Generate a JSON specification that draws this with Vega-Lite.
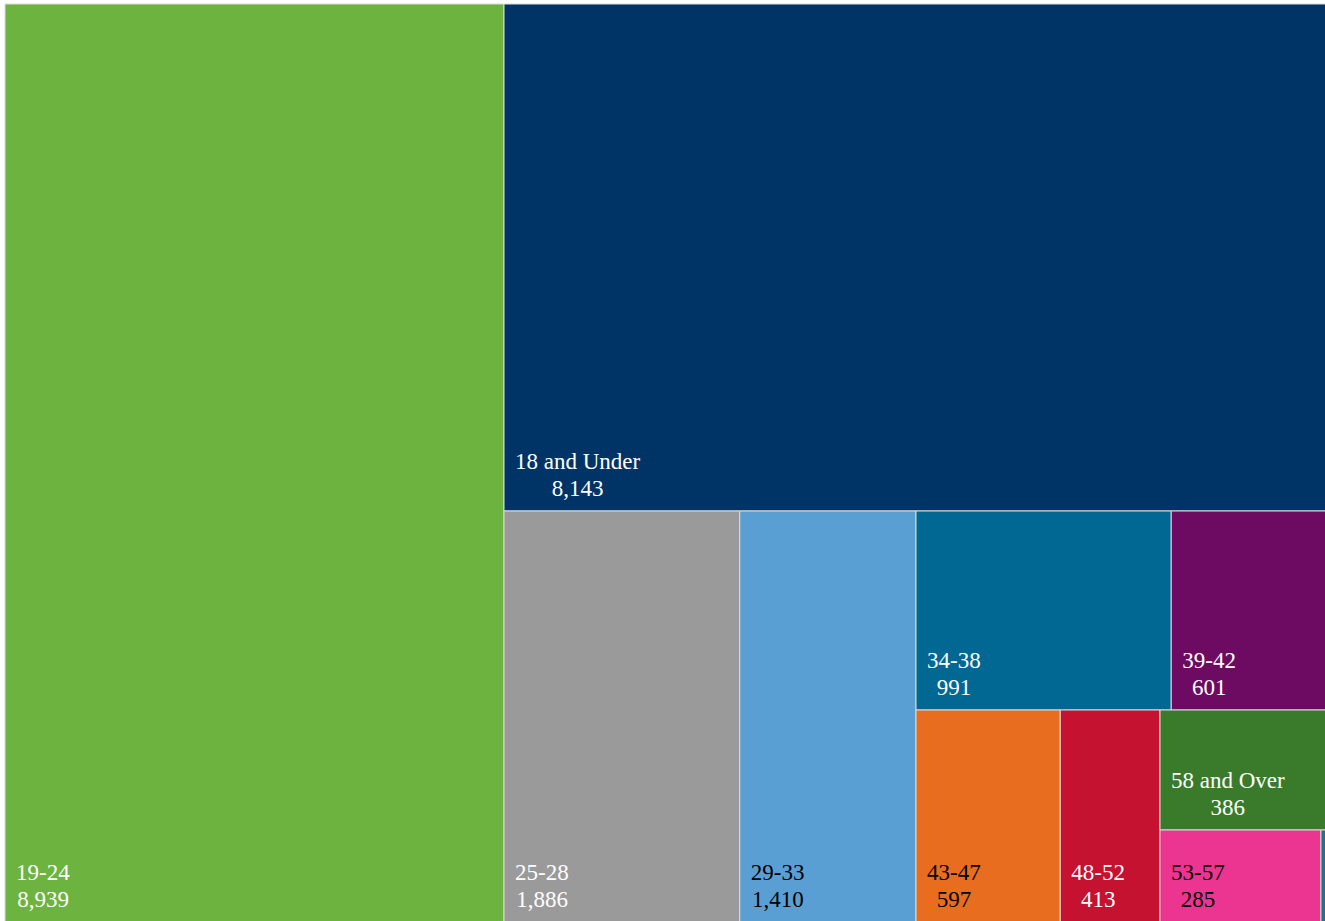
{
  "$schema": "https://vega.github.io/schema/vega-lite/v6.json",
  "padding": {"left": 4, "top": 3, "right": 0, "bottom": 0},
  "background": "white",
  "config": {"view": {"stroke": null}, "concat": {"spacing": 0}, "text": {"font": "Liberation Serif", "fontSize": 23}},
  "data": {"values": [
    {"label": "19-24", "value": 8939},
    {"label": "18 and Under", "value": 8143},
    {"label": "25-28", "value": 1886},
    {"label": "29-33", "value": 1410},
    {"label": "34-38", "value": 991},
    {"label": "39-42", "value": 601},
    {"label": "43-47", "value": 597},
    {"label": "48-52", "value": 413},
    {"label": "58 and Over", "value": 386},
    {"label": "53-57", "value": 285},
    {"label": "Unknown", "value": 9}
  ]},
  "spacing": 0,
  "bounds": "flush",
  "hconcat": [
    {
      "width": 499, "height": 918,
      "transform": [{"filter": {"field": "label", "oneOf": ["19-24"]}}, {"stack": "value", "groupby": [], "as": ["s0", "s1"], "offset": "normalize", "sort": [{"field": "value", "order": "descending"}]}],
      "layer": [
        {"mark": {"type": "rect", "stroke": "#dcdcdc", "strokeWidth": 1}, "encoding": {"x": {"field": "s0", "type": "quantitative", "scale": {"domain": [0, 1], "nice": false, "zero": false}, "axis": null}, "x2": {"field": "s1"}, "y": {"datum": 0, "type": "quantitative", "scale": {"domain": [0, 1], "nice": false}, "axis": null}, "y2": {"datum": 1}, "color": {"field": "label", "type": "nominal", "legend": null, "scale": {"domain": ["19-24", "18 and Under", "25-28", "29-33", "34-38", "39-42", "43-47", "48-52", "58 and Over", "53-57", "Unknown"], "range": ["#6db33f", "#003466", "#9a9a9a", "#5a9fd4", "#006892", "#6d0b62", "#e86d1f", "#c41230", "#3a7b2b", "#eb3591", "#2b6f86"]}}}},
        {"transform": [{"filter": "datum.value > 50"}], "mark": {"type": "text", "font": "Liberation Serif", "fontSize": 23, "align": "left", "baseline": "alphabetic", "dx": 11, "dy": -42.5}, "encoding": {"x": {"field": "s0", "type": "quantitative"}, "y": {"datum": 0, "type": "quantitative"}, "text": {"field": "label"}, "color": {"value": "white"}}},
        {"transform": [{"filter": "datum.value > 50"}], "mark": {"type": "text", "font": "Liberation Serif", "fontSize": 23, "align": "center", "baseline": "alphabetic", "dx": 38, "dy": -15.5}, "encoding": {"x": {"field": "s0", "type": "quantitative"}, "y": {"datum": 0, "type": "quantitative"}, "text": {"field": "value", "format": ","}, "color": {"value": "white"}}}
      ]
    },
    {
      "spacing": 0,
      "bounds": "flush",
      "vconcat": [
        {
          "width": 822, "height": 507,
          "transform": [{"filter": {"field": "label", "oneOf": ["18 and Under"]}}, {"stack": "value", "groupby": [], "as": ["s0", "s1"], "offset": "normalize", "sort": [{"field": "value", "order": "descending"}]}],
          "layer": [
            {"mark": {"type": "rect", "stroke": "#dcdcdc", "strokeWidth": 1}, "encoding": {"x": {"field": "s0", "type": "quantitative", "scale": {"domain": [0, 1], "nice": false, "zero": false}, "axis": null}, "x2": {"field": "s1"}, "y": {"datum": 0, "type": "quantitative", "scale": {"domain": [0, 1], "nice": false}, "axis": null}, "y2": {"datum": 1}, "color": {"field": "label", "type": "nominal", "legend": null}}},
            {"transform": [{"filter": "datum.value > 50"}], "mark": {"type": "text", "font": "Liberation Serif", "fontSize": 23, "align": "left", "baseline": "alphabetic", "dx": 11, "dy": -42.5}, "encoding": {"x": {"field": "s0", "type": "quantitative"}, "y": {"datum": 0, "type": "quantitative"}, "text": {"field": "label"}, "color": {"value": "white"}}},
            {"transform": [{"filter": "datum.value > 50"}], "mark": {"type": "text", "font": "Liberation Serif", "fontSize": 23, "align": "center", "baseline": "alphabetic", "dx": 73.6, "dy": -15.5}, "encoding": {"x": {"field": "s0", "type": "quantitative"}, "y": {"datum": 0, "type": "quantitative"}, "text": {"field": "value", "format": ","}, "color": {"value": "white"}}}
          ]
        },
        {
          "spacing": 0,
          "bounds": "flush",
          "hconcat": [
            {
              "width": 412, "height": 411,
              "transform": [{"filter": {"field": "label", "oneOf": ["25-28", "29-33"]}}, {"stack": "value", "groupby": [], "as": ["s0", "s1"], "offset": "normalize", "sort": [{"field": "value", "order": "descending"}]}],
              "layer": [
                {"mark": {"type": "rect", "stroke": "#dcdcdc", "strokeWidth": 1}, "encoding": {"x": {"field": "s0", "type": "quantitative", "scale": {"domain": [0, 1], "nice": false, "zero": false}, "axis": null}, "x2": {"field": "s1"}, "y": {"datum": 0, "type": "quantitative", "scale": {"domain": [0, 1], "nice": false}, "axis": null}, "y2": {"datum": 1}, "color": {"field": "label", "type": "nominal", "legend": null}}},
                {"transform": [{"filter": "datum.value > 50"}], "mark": {"type": "text", "font": "Liberation Serif", "fontSize": 23, "align": "left", "baseline": "alphabetic", "dx": 11, "dy": -42.5}, "encoding": {"x": {"field": "s0", "type": "quantitative"}, "y": {"datum": 0, "type": "quantitative"}, "text": {"field": "label"}, "color": {"condition": {"test": "datum.label == '29-33'", "value": "black"}, "value": "white"}}},
                {"transform": [{"filter": "datum.value > 50"}], "mark": {"type": "text", "font": "Liberation Serif", "fontSize": 23, "align": "center", "baseline": "alphabetic", "dx": 38, "dy": -15.5}, "encoding": {"x": {"field": "s0", "type": "quantitative"}, "y": {"datum": 0, "type": "quantitative"}, "text": {"field": "value", "format": ","}, "color": {"condition": {"test": "datum.label == '29-33'", "value": "black"}, "value": "white"}}}
              ]
            },
            {
              "spacing": 0,
              "bounds": "flush",
              "vconcat": [
                {
                  "width": 410, "height": 199,
                  "transform": [{"filter": {"field": "label", "oneOf": ["34-38", "39-42"]}}, {"stack": "value", "groupby": [], "as": ["s0", "s1"], "offset": "normalize", "sort": [{"field": "value", "order": "descending"}]}],
                  "layer": [
                    {"mark": {"type": "rect", "stroke": "#dcdcdc", "strokeWidth": 1}, "encoding": {"x": {"field": "s0", "type": "quantitative", "scale": {"domain": [0, 1], "nice": false, "zero": false}, "axis": null}, "x2": {"field": "s1"}, "y": {"datum": 0, "type": "quantitative", "scale": {"domain": [0, 1], "nice": false}, "axis": null}, "y2": {"datum": 1}, "color": {"field": "label", "type": "nominal", "legend": null}}},
                    {"transform": [{"filter": "datum.value > 50"}], "mark": {"type": "text", "font": "Liberation Serif", "fontSize": 23, "align": "left", "baseline": "alphabetic", "dx": 11, "dy": -42.5}, "encoding": {"x": {"field": "s0", "type": "quantitative"}, "y": {"datum": 0, "type": "quantitative"}, "text": {"field": "label"}, "color": {"value": "white"}}},
                    {"transform": [{"filter": "datum.value > 50"}], "mark": {"type": "text", "font": "Liberation Serif", "fontSize": 23, "align": "center", "baseline": "alphabetic", "dx": 38, "dy": -15.5}, "encoding": {"x": {"field": "s0", "type": "quantitative"}, "y": {"datum": 0, "type": "quantitative"}, "text": {"field": "value", "format": ","}, "color": {"value": "white"}}}
                  ]
                },
                {
                  "spacing": 0,
                  "bounds": "flush",
                  "hconcat": [
                    {
                      "width": 244, "height": 212,
                      "transform": [{"filter": {"field": "label", "oneOf": ["43-47", "48-52"]}}, {"stack": "value", "groupby": [], "as": ["s0", "s1"], "offset": "normalize", "sort": [{"field": "value", "order": "descending"}]}],
                      "layer": [
                        {"mark": {"type": "rect", "stroke": "#dcdcdc", "strokeWidth": 1}, "encoding": {"x": {"field": "s0", "type": "quantitative", "scale": {"domain": [0, 1], "nice": false, "zero": false}, "axis": null}, "x2": {"field": "s1"}, "y": {"datum": 0, "type": "quantitative", "scale": {"domain": [0, 1], "nice": false}, "axis": null}, "y2": {"datum": 1}, "color": {"field": "label", "type": "nominal", "legend": null}}},
                        {"transform": [{"filter": "datum.value > 50"}], "mark": {"type": "text", "font": "Liberation Serif", "fontSize": 23, "align": "left", "baseline": "alphabetic", "dx": 11, "dy": -42.5}, "encoding": {"x": {"field": "s0", "type": "quantitative"}, "y": {"datum": 0, "type": "quantitative"}, "text": {"field": "label"}, "color": {"condition": {"test": "datum.label == '43-47'", "value": "black"}, "value": "white"}}},
                        {"transform": [{"filter": "datum.value > 50"}], "mark": {"type": "text", "font": "Liberation Serif", "fontSize": 23, "align": "center", "baseline": "alphabetic", "dx": 38, "dy": -15.5}, "encoding": {"x": {"field": "s0", "type": "quantitative"}, "y": {"datum": 0, "type": "quantitative"}, "text": {"field": "value", "format": ","}, "color": {"condition": {"test": "datum.label == '43-47'", "value": "black"}, "value": "white"}}}
                      ]
                    },
                    {
                      "spacing": 0,
                      "bounds": "flush",
                      "vconcat": [
                        {
                          "width": 166, "height": 120,
                          "transform": [{"filter": {"field": "label", "oneOf": ["58 and Over"]}}, {"stack": "value", "groupby": [], "as": ["s0", "s1"], "offset": "normalize", "sort": [{"field": "value", "order": "descending"}]}],
                          "layer": [
                            {"mark": {"type": "rect", "stroke": "#dcdcdc", "strokeWidth": 1}, "encoding": {"x": {"field": "s0", "type": "quantitative", "scale": {"domain": [0, 1], "nice": false, "zero": false}, "axis": null}, "x2": {"field": "s1"}, "y": {"datum": 0, "type": "quantitative", "scale": {"domain": [0, 1], "nice": false}, "axis": null}, "y2": {"datum": 1}, "color": {"field": "label", "type": "nominal", "legend": null}}},
                            {"transform": [{"filter": "datum.value > 50"}], "mark": {"type": "text", "font": "Liberation Serif", "fontSize": 23, "align": "left", "baseline": "alphabetic", "dx": 11, "dy": -42.5}, "encoding": {"x": {"field": "s0", "type": "quantitative"}, "y": {"datum": 0, "type": "quantitative"}, "text": {"field": "label"}, "color": {"value": "white"}}},
                            {"transform": [{"filter": "datum.value > 50"}], "mark": {"type": "text", "font": "Liberation Serif", "fontSize": 23, "align": "center", "baseline": "alphabetic", "dx": 67.8, "dy": -15.5}, "encoding": {"x": {"field": "s0", "type": "quantitative"}, "y": {"datum": 0, "type": "quantitative"}, "text": {"field": "value", "format": ","}, "color": {"value": "white"}}}
                          ]
                        },
                        {
                          "width": 166, "height": 92,
                          "transform": [{"filter": {"field": "label", "oneOf": ["53-57", "Unknown"]}}, {"stack": "value", "groupby": [], "as": ["s0", "s1"], "offset": "normalize", "sort": [{"field": "value", "order": "descending"}]}],
                          "layer": [
                            {"mark": {"type": "rect", "stroke": "#dcdcdc", "strokeWidth": 1}, "encoding": {"x": {"field": "s0", "type": "quantitative", "scale": {"domain": [0, 1], "nice": false, "zero": false}, "axis": null}, "x2": {"field": "s1"}, "y": {"datum": 0, "type": "quantitative", "scale": {"domain": [0, 1], "nice": false}, "axis": null}, "y2": {"datum": 1}, "color": {"field": "label", "type": "nominal", "legend": null}}},
                            {"transform": [{"filter": "datum.value > 50"}], "mark": {"type": "text", "font": "Liberation Serif", "fontSize": 23, "align": "left", "baseline": "alphabetic", "dx": 11, "dy": -42.5}, "encoding": {"x": {"field": "s0", "type": "quantitative"}, "y": {"datum": 0, "type": "quantitative"}, "text": {"field": "label"}, "color": {"value": "black"}}},
                            {"transform": [{"filter": "datum.value > 50"}], "mark": {"type": "text", "font": "Liberation Serif", "fontSize": 23, "align": "center", "baseline": "alphabetic", "dx": 38, "dy": -15.5}, "encoding": {"x": {"field": "s0", "type": "quantitative"}, "y": {"datum": 0, "type": "quantitative"}, "text": {"field": "value", "format": ","}, "color": {"value": "black"}}}
                          ]
                        }
                      ]
                    }
                  ]
                }
              ]
            }
          ]
        }
      ]
    }
  ]
}
